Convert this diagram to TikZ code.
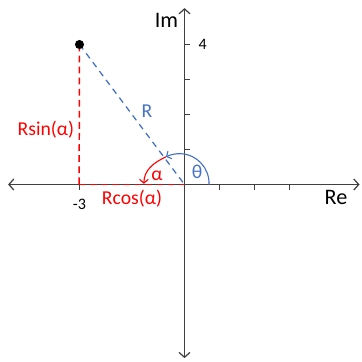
\documentclass[tikz,border=0pt]{standalone}
\usepackage{fontspec}
\setmainfont{Carlito}
\usetikzlibrary{arrows.meta, positioning, calc}
\definecolor{axisGray}{HTML}{404040}
\definecolor{polarRed}{HTML}{FF0000}
\definecolor{polarBlue}{HTML}{4472C4}

\begin{document}
\begin{tikzpicture}[x=1cm, y=1cm, font=\fontsize{16}{18}\selectfont,
    axis/.style={draw=axisGray, line width=1pt, {Straight Barb[length=4pt,width=9pt]}-{Straight Barb[length=4pt,width=9pt]}},
    tick/.style={draw=axisGray, line width=1pt},
    redDash/.style={color=polarRed, line width=1.2pt, dash pattern=on 5.5pt off 3.5pt},
    blueDash/.style={color=polarBlue, line width=1pt, dash pattern=on 5pt off 4pt}]
  \useasboundingbox (-5.271,-5.043) rectangle (5.071,5.271);
  % axes
  \coordinate (O) at (0,0);
  \coordinate (xl) at (-5.04,0);
  \coordinate (xr) at (5.0,0);
  \coordinate (yt) at (0,5.04);
  \coordinate (yb) at (0,-4.96);
  \draw[axis] (xl) -- (xr);
  \draw[axis] (yb) -- (yt);
  \foreach \k in {1,2,3,4}
    \draw[tick] (0,\k) -- ++(0.17,0);
  \foreach \k in {-3,1,2,3}
    \draw[tick] (\k,0) -- ++(0,-0.17);
  \node[font=\fontsize{18}{20}\selectfont] (re) at (4.33,-0.38) {Re};
  \node[font=\fontsize{18}{20}\selectfont, anchor=east] (im) at (-0.06,4.7) {Im};
  \node[font=\fontsize{13}{15}\selectfont, anchor=west] (four) at (0.28,4) {4};
  \node[font=\fontsize{13}{15}\selectfont, anchor=north] (mthree) at (-3,-0.3) {-3};
  % point and projections
  \coordinate (P) at (-3,4);
  \coordinate (Px) at (-3.01,0);
  \draw[redDash] (P) -- (Px);
  \draw[redDash] (Px) -- (O);
  \draw[blueDash] (P) -- (O);
  \fill (P) circle (0.13);
  \node[text=polarBlue] (rlab) at (-1.07,2.1) {R};
  \node[text=polarRed] (sinlab) at (-3.96,1.56) {Rsin(α)};
  \node[text=polarRed] (coslab) at (-1.5,-0.41) {Rcos(α)};
  % angles
  \coordinate (ab) at (0.7,0);
  \coordinate (am) at (-0.53,0.79);
  \coordinate (ae) at (-1.16,0.02);
  \draw[polarBlue, line width=0.9pt, -{Straight Barb[length=3pt,width=7pt]}]
    (ab) arc[start angle=-2.4, end angle=117, radius=0.846];
  \draw[polarRed, line width=0.9pt, -{Straight Barb[length=3pt,width=7pt]}]
    (am) to[out=205, in=90] (ae);
  \node[text=polarRed] (alab) at (-0.79,0.26) {α};
  \node[text=polarBlue] (tlab) at (0.36,0.36) {θ};
\end{tikzpicture}
\end{document}
